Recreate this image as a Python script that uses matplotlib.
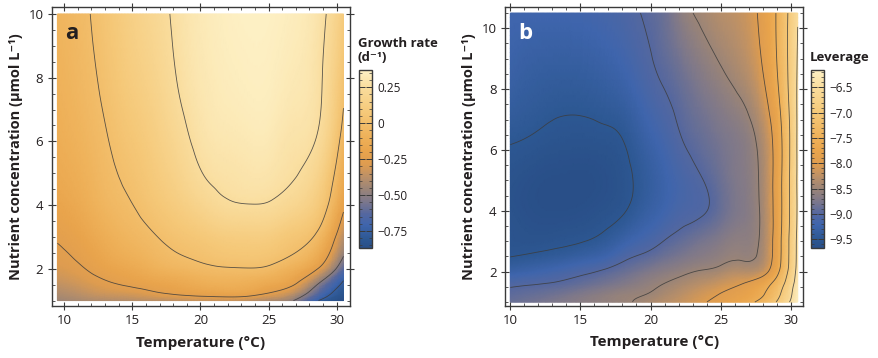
import numpy as np
import matplotlib
matplotlib.use("Agg")
import matplotlib.pyplot as plt
import matplotlib.tri as mtri
from matplotlib.colors import LinearSegmentedColormap, Normalize
from matplotlib.cm import ScalarMappable
from matplotlib.ticker import MultipleLocator, FixedLocator

plt.rcParams['font.family'] = ['Open Sans', 'DejaVu Sans']

# ---------------- Panel a: growth rate (d^-1) ----------------
temp_a = [9.5, 11.25, 13, 14.75, 16.5, 18.25, 20, 21.75, 23.5, 25.25, 27, 28.75, 30.5]
nutr_a = [1, 1.26, 1.58, 2.0, 2.51, 3.16, 3.98, 5.01, 6.31, 7.94, 10]
# one list per temperature, values listed by nutrient (bottom -> top)
growth_by_temp = [
    [-0.45, -0.40, -0.35, -0.30, -0.265, -0.23, -0.185, -0.145, -0.115, -0.09, -0.07],
    [-0.42, -0.36, -0.31, -0.26, -0.22, -0.18, -0.135, -0.10, -0.07, -0.045, -0.025],
    [-0.40, -0.32, -0.26, -0.20, -0.15, -0.105, -0.06, -0.03, -0.005, 0.025, 0.05],
    [-0.39, -0.30, -0.22, -0.155, -0.095, -0.05, -0.01, 0.025, 0.06, 0.10, 0.13],
    [-0.38, -0.26, -0.18, -0.10, -0.045, 0.0, 0.05, 0.09, 0.125, 0.165, 0.20],
    [-0.37, -0.22, -0.15, -0.06, 0.0, 0.05, 0.11, 0.165, 0.21, 0.25, 0.27],
    [-0.35, -0.19, -0.11, -0.03, 0.03, 0.09, 0.175, 0.245, 0.285, 0.31, 0.325],
    [-0.35, -0.17, -0.09, -0.01, 0.06, 0.13, 0.23, 0.28, 0.315, 0.34, 0.355],
    [-0.37, -0.18, -0.10, -0.005, 0.07, 0.14, 0.245, 0.295, 0.33, 0.355, 0.37],
    [-0.42, -0.25, -0.14, -0.03, 0.055, 0.13, 0.235, 0.29, 0.325, 0.35, 0.365],
    [-0.52, -0.37, -0.23, -0.11, 0.0, 0.075, 0.185, 0.255, 0.29, 0.32, 0.34],
    [-0.76, -0.63, -0.49, -0.27, -0.13, -0.02, 0.08, 0.16, 0.24, 0.265, 0.285],
    [-0.87, -0.82, -0.76, -0.63, -0.47, -0.36, -0.22, -0.13, -0.04, 0.035, 0.10],
]
levels_a = [-0.75, -0.5, -0.25, 0.0, 0.25]
cbar_ticks_a = [0.25, 0.0, -0.25, -0.50, -0.75]
cbar_labels_a = ['0.25', '0', '\u22120.25', '\u22120.50', '\u22120.75']
range_a = (-0.87, 0.37)

# ---------------- Panel b: leverage ----------------
temp_b = [10, 11.37, 12.73, 14.1, 15.47, 16.83, 18.2, 19.57,
          20.93, 22.3, 23.67, 25.03, 26.4, 27.77, 29.13, 30.5]
nutr_b = [1, 1.27, 1.6, 2.03, 2.56, 3.24, 4.1, 5.19, 6.56, 8.3, 10.5]
# one list per nutrient level (bottom -> top), values listed by temperature
leverage_by_nutr = [
    [-8.88, -8.82, -8.76, -8.70, -8.64, -8.58, -8.53, -8.43, -8.30, -8.18, -8.04, -7.88, -7.70, -7.42, -6.92, -6.16],
    [-8.94, -8.90, -8.85, -8.78, -8.70, -8.62, -8.55, -8.51, -8.40, -8.26, -8.12, -7.99, -7.84, -7.60, -7.08, -6.22],
    [-9.05, -9.02, -8.99, -8.94, -8.87, -8.79, -8.70, -8.60, -8.50, -8.39, -8.27, -8.15, -8.02, -7.78, -7.25, -6.28],
    [-9.30, -9.25, -9.19, -9.12, -9.05, -8.97, -8.87, -8.76, -8.66, -8.57, -8.49, -8.41, -8.32, -8.25, -7.55, -6.36],
    [-9.52, -9.49, -9.45, -9.40, -9.33, -9.24, -9.08, -8.98, -8.87, -8.77, -8.68, -8.60, -8.55, -8.46, -7.66, -6.40],
    [-9.57, -9.60, -9.60, -9.58, -9.55, -9.47, -9.33, -9.19, -9.06, -8.95, -8.85, -8.74, -8.64, -8.50, -7.68, -6.42],
    [-9.60, -9.64, -9.66, -9.66, -9.64, -9.60, -9.52, -9.36, -9.22, -9.10, -9.04, -8.88, -8.72, -8.50, -7.70, -6.45],
    [-9.58, -9.62, -9.65, -9.66, -9.66, -9.63, -9.55, -9.40, -9.24, -9.10, -8.99, -8.84, -8.70, -8.48, -7.70, -6.44],
    [-9.46, -9.49, -9.53, -9.55, -9.55, -9.53, -9.46, -9.28, -9.13, -8.98, -8.87, -8.76, -8.66, -8.40, -7.68, -6.44],
    [-9.30, -9.36, -9.39, -9.40, -9.38, -9.33, -9.24, -9.10, -8.98, -8.85, -8.70, -8.56, -8.41, -8.12, -7.47, -6.45],
    [-9.20, -9.20, -9.20, -9.19, -9.17, -9.13, -9.07, -8.98, -8.86, -8.60, -8.44, -8.30, -8.20, -7.96, -7.40, -6.52],
]
levels_b = [-9.5, -9.0, -8.5, -8.0, -7.5, -7.0, -6.5]
cbar_ticks_b = [-6.5, -7.0, -7.5, -8.0, -8.5, -9.0, -9.5]
cbar_labels_b = ['\u22126.5', '\u22127.0', '\u22127.5', '\u22128.0', '\u22128.5', '\u22129.0', '\u22129.5']
range_b = (-9.67, -6.16)

# colour map (navy -> blue -> mauve grey -> orange -> cream)
cmap = LinearSegmentedColormap.from_list('bgo', [
    (0.00, '#294f88'),
    (0.05, '#2d5893'),
    (0.13, '#3f65ad'),
    (0.19, '#5467a0'),
    (0.26, '#7c778c'),
    (0.33, '#9a8478'),
    (0.40, '#bb9068'),
    (0.47, '#de9c50'),
    (0.55, '#e9a44c'),
    (0.62, '#eeb058'),
    (0.76, '#f5c878'),
    (0.90, '#f9dc9c'),
    (1.00, '#fdf0c4'),
])

frame_col = '#3a3a3a'
text_col = '#231f20'


def draw_panel(ax, T, N, Z, levels, vrange):
    """Z has shape (len(N), len(T)). Smooth with matplotlib's cubic
    triangle refiner in node-index space, then place on the data axes."""
    nx, ny = len(T), len(N)
    I, J = np.meshgrid(np.arange(nx, dtype=float), np.arange(ny, dtype=float))
    tris = []
    for j in range(ny - 1):
        for i in range(nx - 1):
            p = j * nx + i
            tris.append([p, p + 1, p + nx + 1])
            tris.append([p, p + nx + 1, p + nx])
    tri = mtri.Triangulation(I.ravel(), J.ravel(), np.array(tris))
    zf = np.asarray(Z, dtype=float).ravel()
    interp = mtri.CubicTriInterpolator(tri, zf, kind='min_E')
    tri_r, z_r = mtri.UniformTriRefiner(tri).refine_field(
        zf, triinterpolator=interp, subdiv=4)
    xr = np.interp(tri_r.x, np.arange(nx), T)
    yr = 10 ** np.interp(tri_r.y, np.arange(ny), np.log10(N))
    tri_p = mtri.Triangulation(xr, yr, tri_r.triangles)
    ax.tripcolor(tri_p, z_r, shading='gouraud', cmap=cmap,
                 vmin=vrange[0], vmax=vrange[1], rasterized=True)
    ax.tricontour(tri_p, z_r, levels=levels, colors='#3c3c3c',
                  linewidths=0.6, alpha=0.85, linestyles='solid')


def style_axes(ax, xlim, ylim):
    ax.set_xlim(*xlim)
    ax.set_ylim(*ylim)
    ax.xaxis.set_major_locator(FixedLocator([10, 15, 20, 25, 30]))
    ax.xaxis.set_minor_locator(MultipleLocator(1))
    ax.yaxis.set_major_locator(FixedLocator([2, 4, 6, 8, 10]))
    ax.yaxis.set_minor_locator(MultipleLocator(0.5))
    ax.tick_params(which='major', direction='inout', length=6, width=0.8,
                   color=frame_col, top=True, right=True, labelsize=9.5,
                   labelcolor=text_col, pad=3)
    ax.tick_params(which='minor', direction='in', length=2.5, width=0.6,
                   color=frame_col, top=True, right=True)
    for s in ax.spines.values():
        s.set_color(frame_col)
        s.set_linewidth(1.0)
    ax.set_xlabel('Temperature (\u00b0C)', fontsize=11, fontweight='bold',
                  color=text_col, labelpad=6)
    ax.set_ylabel('Nutrient concentration (\u00b5mol L\u207b\u00b9)', fontsize=10.5,
                  fontweight='bold', color=text_col, labelpad=4)


def add_cbar(fig, rect, vrange, ticks, labels, minor):
    cax = fig.add_axes(rect)
    sm = ScalarMappable(norm=Normalize(*vrange), cmap=cmap)
    cb = fig.colorbar(sm, cax=cax)
    cb.outline.set_edgecolor(frame_col)
    cb.outline.set_linewidth(1.0)
    cb.set_ticks(ticks)
    cb.set_ticklabels(labels)
    cax.yaxis.set_minor_locator(MultipleLocator(minor))
    cax.tick_params(which='major', direction='in', length=4, width=0.7,
                    left=True, right=True, color=frame_col, labelsize=8.5,
                    labelcolor=text_col, pad=4)
    cax.tick_params(which='minor', direction='in', length=2, width=0.5,
                    left=True, right=True, color=frame_col)
    return cax


fig = plt.figure(figsize=(8.79, 3.58), dpi=100)

axa = fig.add_axes([0.0588, 0.1453, 0.3394, 0.8343])
draw_panel(axa, temp_a, nutr_a, np.array(growth_by_temp).T, levels_a, range_a)
style_axes(axa, (9.08, 30.98), (0.83, 10.21))
axa.text(0.045, 0.895, 'a', transform=axa.transAxes, fontsize=16,
         fontweight='bold', color=text_col, va='baseline')

axb = fig.add_axes([0.5745, 0.1461, 0.3394, 0.8335])
draw_panel(axb, temp_b, nutr_b, np.array(leverage_by_nutr), levels_b, range_b)
style_axes(axb, (9.62, 30.9), (0.88, 10.69))
axb.text(0.044, 0.895, 'b', transform=axb.transAxes, fontsize=16,
         fontweight='bold', color='white', va='baseline')

add_cbar(fig, [0.4084, 0.3064, 0.0145, 0.498], range_a,
         cbar_ticks_a, cbar_labels_a, 0.05)
add_cbar(fig, [0.9226, 0.3073, 0.0148, 0.497], range_b,
         cbar_ticks_b, cbar_labels_b, 0.1)

fig.text(358 / 879, 1 - 47 / 358, 'Growth rate', fontsize=9.5,
         fontweight='bold', color=text_col, ha='left', va='baseline')
fig.text(358 / 879, 1 - 61 / 358, '(d\u207b\u00b9)', fontsize=9.5,
         fontweight='bold', color=text_col, ha='left', va='baseline')
fig.text(810 / 879, 1 - 61 / 358, 'Leverage', fontsize=9.5,
         fontweight='bold', color=text_col, ha='left', va='baseline')

fig.savefig('out.png', dpi=100)
